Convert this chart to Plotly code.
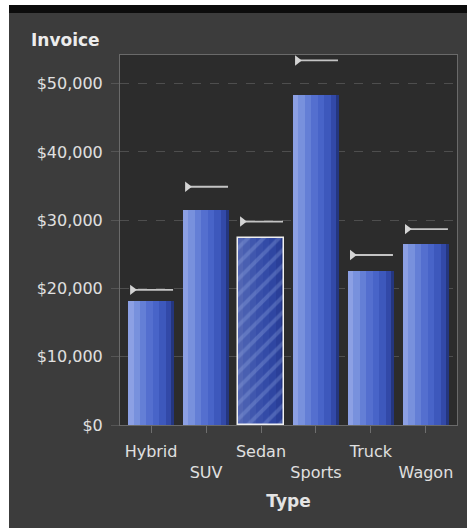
import plotly.graph_objects as go

# ---- data ----
categories = ["Hybrid", "SUV", "Sedan", "Sports", "Truck", "Wagon"]
invoice = [18200, 31500, 27400, 48400, 22600, 26500]
reference = [19800, 34900, 29800, 53400, 24900, 28700]
tick_labels = ["Hybrid", "<br>SUV", "Sedan", "<br>Sports", "Truck", "<br>Wagon"]
y_ticks = [0, 10000, 20000, 30000, 40000, 50000]
highlight = "Sedan"

W, H = 467, 531
ML, MR, MT, MB = 120, 10, 55, 106
PW, PH = W - ML - MR, H - MT - MB

xs = list(range(len(categories)))
BW = 0.84
FONT = "DejaVu Sans, Verdana, sans-serif"

fig = go.Figure()

# gradient layers (left light -> right dark)
fracs = [1.0, 0.93, 0.82, 0.68, 0.54, 0.40, 0.26, 0.12]
cols = ["#24367f", "#3249a8", "#3d58bc", "#4864c8", "#546fcf", "#647fd6", "#7891dd", "#8ca0e4"]
for f, c in zip(fracs, cols):
    fig.add_trace(go.Bar(
        x=xs, y=invoice, width=BW * f, offset=-BW / 2,
        marker=dict(color=c, line=dict(width=0)),
        hoverinfo="skip", showlegend=False))

# highlighted bar with stripes
hi = [v if c == highlight else None for c, v in zip(categories, invoice)]
fig.add_trace(go.Bar(
    x=xs, y=hi, width=BW, offset=-BW / 2,
    marker=dict(color="rgba(35,55,140,0.55)",
                line=dict(color="#f0f0f0", width=1.5),
                pattern=dict(shape="/", fgcolor="rgba(160,180,235,0.55)",
                             size=11, solidity=0.35, fillmode="overlay")),
    hoverinfo="skip", showlegend=False))

# reference markers: line + triangle
lx, ly = [], []
for i, r in zip(xs, reference):
    lx += [i - BW / 2 + 0.06, i + BW / 2 - 0.02, None]
    ly += [r, r, None]
fig.add_trace(go.Scatter(x=lx, y=ly, mode="lines",
                         line=dict(color="#c4c4c4", width=1.8),
                         hoverinfo="skip", showlegend=False))
fig.add_trace(go.Scatter(x=[i - BW / 2 + 0.08 for i in xs], y=reference, mode="markers",
                         marker=dict(symbol="triangle-right", size=9, color="#d4d4d4"),
                         hoverinfo="skip", showlegend=False))

def px_x(p):
    return (p - ML) / PW

def px_y(p):
    return 1 - (p - MT) / PH

shapes = [
    dict(type="rect", xref="paper", yref="paper", x0=px_x(0), x1=px_x(9), y0=px_y(H), y1=px_y(0),
         fillcolor="white", line=dict(width=0), layer="above"),
    dict(type="rect", xref="paper", yref="paper", x0=px_x(0), x1=px_x(W), y0=px_y(5), y1=px_y(0),
         fillcolor="white", line=dict(width=0), layer="above"),
    dict(type="rect", xref="paper", yref="paper", x0=px_x(9), x1=px_x(W), y0=px_y(13), y1=px_y(5),
         fillcolor="#0c0c0c", line=dict(width=0), layer="above"),
    dict(type="rect", xref="paper", yref="paper", x0=px_x(0), x1=px_x(W), y0=px_y(H), y1=px_y(528),
         fillcolor="white", line=dict(width=0), layer="above"),
]

fig.update_layout(
    width=W, height=H,
    margin=dict(l=ML, r=MR, t=MT, b=MB),
    paper_bgcolor="#3c3c3c", plot_bgcolor="#2c2c2c",
    barmode="overlay", bargap=0,
    font=dict(family=FONT, color="#e0e0e0", size=16),
    shapes=shapes,
    annotations=[dict(text="<b>Invoice</b>", xref="paper", yref="paper",
                      x=px_x(29), y=px_y(40), xanchor="left", yanchor="middle",
                      showarrow=False, font=dict(size=17, color="#ececec"))],
    xaxis=dict(
        range=[-0.565, len(categories) - 1 + 0.565],
        tickmode="array", tickvals=xs, ticktext=tick_labels,
        ticks="outside", ticklen=7, tickcolor="#6e6e6e",
        ticklabelstandoff=5,
        showgrid=False, zeroline=False,
        showline=True, linecolor="#6a6a6a", mirror=True,
        tickfont=dict(size=16, color="#e0e0e0"),
        title=dict(text="<b>Type</b>", font=dict(size=17, color="#e4e4e4"), standoff=14),
    ),
    yaxis=dict(
        range=[0, 54200],
        tickmode="array", tickvals=y_ticks, tickformat="$,.0f",
        ticks="outside", ticklen=8, tickcolor="#555555",
        ticklabelstandoff=5,
        showgrid=True, gridcolor="#4e4e4e", griddash="dash", gridwidth=1,
        zeroline=False,
        showline=True, linecolor="#6a6a6a", mirror=True,
        tickfont=dict(size=16, color="#e0e0e0"),
    ),
)

fig.write_html("out.html", config={"displayModeBar": False},
               post_script="document.body.style.margin='0';document.body.style.overflow='hidden';")
